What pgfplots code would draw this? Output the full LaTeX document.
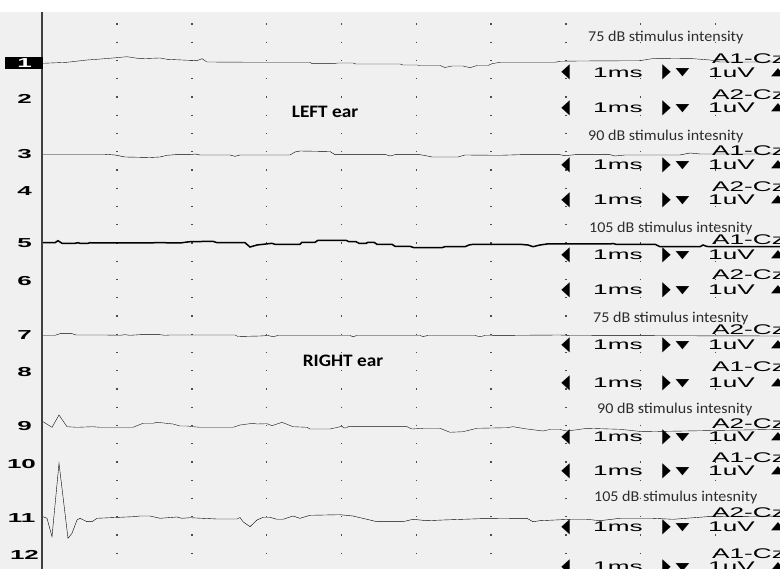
\documentclass[border=0pt]{standalone}
\usepackage{pgfplots}
\pgfplotsset{compat=1.18}
\usepackage{graphicx}
\usepackage{fontspec}
\setmainfont{Carlito}
\newfontfamily\uifont{Liberation Sans}
\newfontfamily\symfont{DejaVu Sans}
\definecolor{bg}{RGB}{240,240,240}
\definecolor{txt}{RGB}{45,45,45}
\definecolor{trace}{RGB}{20,20,20}
\begin{document}
\begin{tikzpicture}
\path[use as bounding box] (0,0) rectangle (780pt,569pt);
\clip (0,0) rectangle (780pt,569pt);
\begin{axis}[at={(0,0)}, anchor=south west, scale only axis,
  width=780pt, height=569pt,
  xmin=0, xmax=780, ymin=0, ymax=569, y dir=reverse,
  axis line style={draw=none}, tick style={draw=none},
  xtick={117,191.8,266.6,341.4,416.2,491,565.8,640.6,715.4},
  xticklabels={}, ytick=\empty,
  xmajorgrids,
  major grid style={black!70, line width=1.4pt, dash pattern=on 1.4pt off 16.85pt, dash phase=13.2pt},
  axis background/.style={fill=bg},
  cycle list={{trace, solid, line width=1.5pt, mark=none}},
]
% channel 1
\addplot coordinates {(43,63.3)(67,62.3)(87,60)(97,59.3)(113,58)(127,56.7)(140,58.7)(160,58)(167,59.3)(182,60)(197,60.7)(202,58.7)(207,62)(260,62.3)(310,62.3)(312,63.7)(333,63.7)(338,63)(353,63)(356,64)(400,64)(403,65)(417,65)(420,65.5)(440,65.5)(445,67.5)(452,66)(463,66)(470,67.7)(477,65.5)(488,65.5)(492,63.7)(500,62.3)(555,62.3)(560,61.3)(580,61)(640,60.7)(650,59)(657,58.3)(693,58.7)(710,60)(720,62)(780,62)};
% channel 3
\addplot coordinates {(43,154.3)(105,154.3)(115,155)(125,157)(140,157.3)(150,157.5)(160,157)(167,155.3)(175,154.7)(190,154.7)(195,154)(200,155)(230,155)(235,156.3)(240,155)(290,155)(295,152)(300,151)(330,151.5)(335,154.7)(386,154.7)(390,156)(395,154.7)(420,154.7)(425,155.5)(432,157)(458,157)(465,155)(500,155.3)(520,154.7)(560,154.7)(565,155.7)(575,154.7)(610,154.7)(615,156)(625,155)(680,155)(690,153)(700,154)(780,154)};
% channel 5
\addplot coordinates {(43,242.7)(55,242.7)(58,240.7)(62,243.3)(75,243.3)(78,242.7)(80,243.3)(88,243.3)(90,242.7)(92,243)(150,243)(155,242.7)(165,242.7)(170,243)(180,243)(185,242.3)(190,241.7)(200,241.7)(203,241.3)(213,241.3)(217,242.7)(245,242.7)(250,247)(257,245)(272,243.3)(275,244.3)(300,244.3)(302,242.3)(315,242.3)(318,240.3)(346,240.3)(349,241.7)(356,241.7)(359,243.3)(366,243.3)(368,242.3)(374,242.3)(377,244.3)(392,244.3)(395,246.3)(410,246.3)(414,247.7)(442,247.7)(445,246.7)(465,246.7)(469,245)(473,244.3)(520,244.3)(528,245)(533,246.7)(540,245)(547,244)(610,244)(613,243.5)(616,244.3)(655,244.3)(660,246.7)(700,246.7)(703,245)(707,246.5)(780,246.7)};
% channel 7
\addplot coordinates {(43,335.3)(55,335.3)(60,333.7)(72,333.7)(76,335)(105,335)(120,335.3)(125,334.7)(130,335.3)(140,334.7)(160,334.7)(165,335.3)(170,335)(235,335)(238,336.5)(260,336)(268,335.5)(273,336.7)(278,335.5)(350,335.5)(353,336.7)(357,335.5)(420,335.5)(423,336.5)(428,335.5)(475,335.5)(480,336.7)(485,335.5)(560,335)(570,335.5)(780,336)};
% channel 9
\addplot coordinates {(43,421.7)(52,427.3)(59,415)(67,426.7)(77,427.3)(93,426.7)(100,427.3)(133,427.3)(138,425.3)(143,423.3)(153,423.3)(157,422.3)(173,424)(180,426)(187,426)(193,426.7)(200,427.3)(233,427.3)(240,425)(253,423.3)(257,424)(267,423.7)(272,425.7)(282,422.3)(293,426.7)(307,427.3)(310,429)(330,429)(342,426.3)(344,428)(347,427.7)(348,426.7)(407,426.7)(412,429)(423,428.3)(440,428.3)(450,432.3)(463,431.7)(477,428.3)(507,427.7)(513,426.7)(527,429)(543,431)(550,429.5)(560,429.5)(567,431)(575,430)(587,428.3)(620,429.3)(643,431.7)(703,430.7)(780,429.3)};
% channel 11
\addplot coordinates {(43,516.7)(47,518.3)(52,536.7)(59,463.3)(68,538.3)(72,533.3)(77,520)(80,518.3)(87,521.7)(92,521.7)(97,518.3)(133,516.7)(140,516)(150,516)(160,518.3)(177,517)(182,518.3)(190,517.7)(217,519)(237,519)(240,517.5)(243,521.7)(250,526.7)(257,520)(263,517.3)(270,517.3)(277,519.3)(283,519.3)(293,516)(300,518.3)(310,515.3)(340,514.7)(353,516)(377,521.7)(403,521.7)(413,519.3)(427,520.7)(443,520)(480,518.7)(527,518.3)(533,521.7)(540,520.7)(570,519.3)(587,519.3)(600,520.7)(620,518.3)(653,518.3)(673,519.3)(707,516.7)(780,516)};
\end{axis}
\begin{scope}[x=1pt,y=-1pt,yshift=569pt]
\fill[white] (0,0) rectangle (780,12);
\draw[black!75, line width=1.3pt] (42,12) -- (42,569);
% channel numbers
\fill[black] (5,57) rectangle (43,69);
\node[inner sep=0, text=white, font=\uifont\bfseries\fontsize{13}{13}\selectfont] at (24.5,63) {\scalebox{2}[1]{1}};
\foreach \x/\y/\t in {24.5/99/2, 24.5/154/3, 24.5/190.7/4, 24.5/243.3/5, 24.5/280.7/6, 24.5/335/7, 24.5/371.7/8, 24.5/426/9, 21.5/464.5/10, 21.5/518/11, 24.5/555/12}
  \node[inner sep=0, font=\uifont\bfseries\fontsize{13}{13}\selectfont] at (\x,\y) {\scalebox{2}[1]{\t}};
% stimulus labels
\foreach \x/\b/\t in {588/41.7/75 dB stimulus intensity, 588/140.7/90 dB stimulus intesnity, 589/232.3/105 dB stimulus intesnity, 593/322.7/75 dB stimulus intesnity, 597/414/90 dB stimulus intesnity, 594/501.7/105 dB stimulus intesnity}
  \node[anchor=base west, inner sep=0, text=txt, font=\fontsize{15}{15}\selectfont] at (\x,\b) {\scalebox{1.07}[1]{\t}};
\node[inner sep=0, font=\bfseries\fontsize{17.5}{17.5}\selectfont] at (325,111.5) {\scalebox{1.1}[1]{LEFT ear}};
\node[inner sep=0, font=\bfseries\fontsize{17.5}{17.5}\selectfont] at (343,361) {\scalebox{1.1}[1]{RIGHT ear}};
% montage labels
\foreach \b/\t in {63.5/A1-Cz, 100/A2-Cz, 156/A1-Cz, 191.7/A2-Cz, 245/A1-Cz, 280/A2-Cz, 335/A2-Cz, 371.7/A1-Cz, 429/A2-Cz, 463/A1-Cz, 518/A2-Cz, 559/A1-Cz}
  \node[anchor=base west, inner sep=0, font=\uifont\fontsize{14}{14}\selectfont] at (712,\b) {\scalebox{1.87}[1]{\t}};
% scale rows
\foreach \b in {77.3,113,170,205,260,295,350,388,442,476,532,572}{
  \node[anchor=base west, inner sep=0, font=\uifont\fontsize{14}{14}\selectfont] at (593,\b) {\scalebox{1.87}[1]{1ms}};
  \node[anchor=base west, inner sep=0, font=\uifont\fontsize{14}{14}\selectfont] at (708,\b) {\scalebox{1.87}[1]{1uV}};
  \node[inner sep=0, font=\symfont\fontsize{20}{20}\selectfont] at (565.5,{\b-4.8}) {\scalebox{0.55}[1]{◀}};
  \node[inner sep=0, font=\symfont\fontsize{20}{20}\selectfont] at (666.5,{\b-4.8}) {\scalebox{0.55}[1]{▶}};
  \node[inner sep=0, font=\symfont\fontsize{18}{18}\selectfont] at (682.5,{\b-4.3}) {\scalebox{1}[0.6]{▼}};
  \node[inner sep=0, font=\symfont\fontsize{18}{18}\selectfont] at (778,{\b-4.8}) {\scalebox{1}[0.6]{▲}};
}
\end{scope}
\end{tikzpicture}
\end{document}
